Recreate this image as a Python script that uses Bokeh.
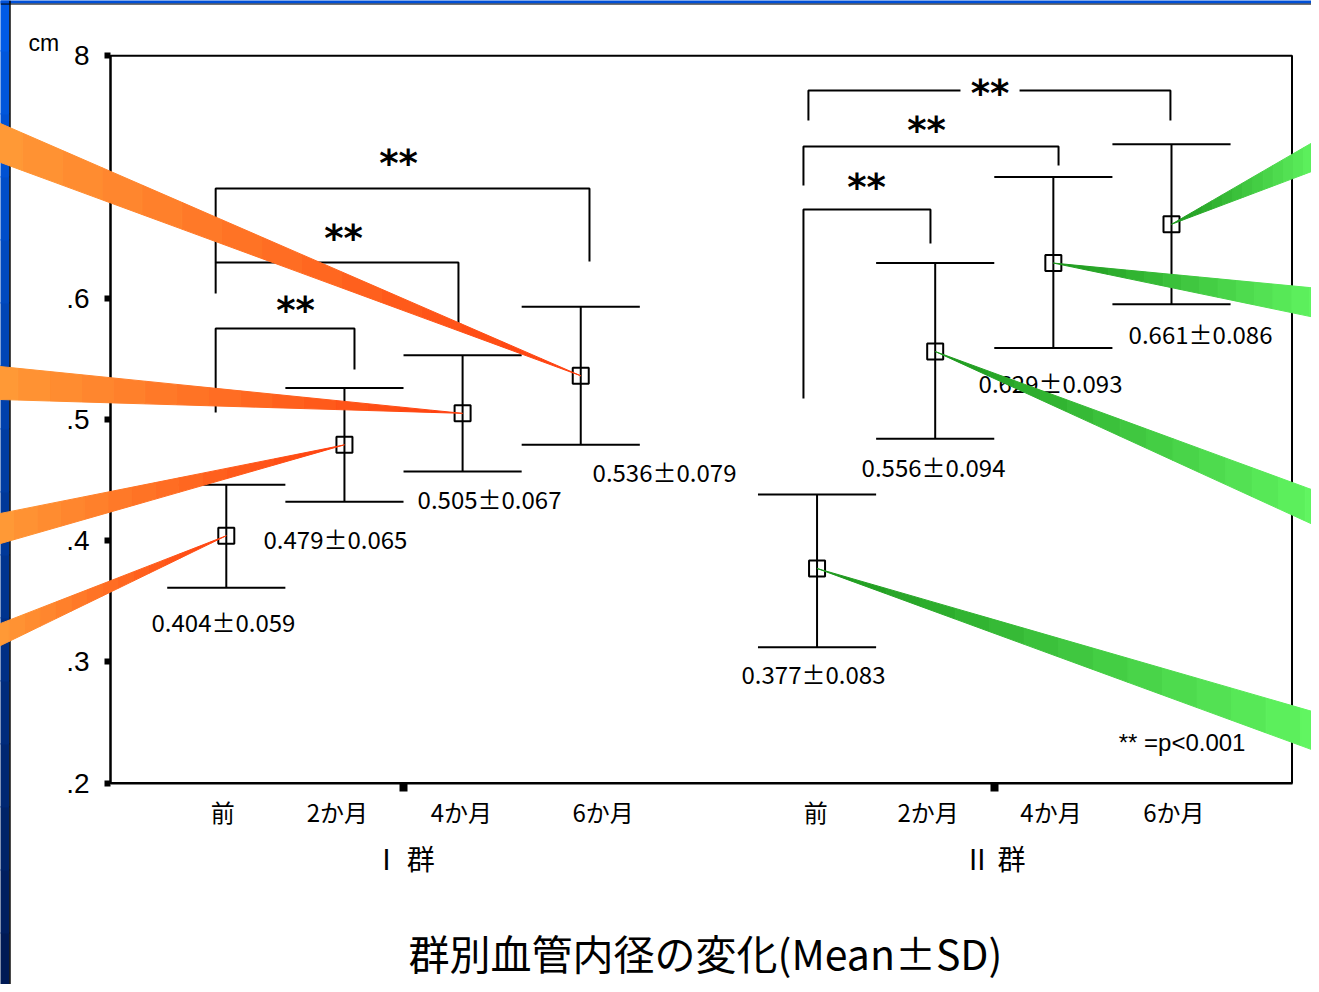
from bokeh.plotting import figure
from bokeh.models import (Range1d, FixedTicker, LinearAxis, Label, BoxAnnotation, Span,
                          ColumnDataSource)
from bokeh.core.properties import value
from bokeh.embed import file_html
from bokeh.resources import INLINE

# ---------------- data ----------------
periods = ["前", "2か月", "4か月", "6か月"]
group_names = ["Ⅰ 群", "Ⅱ 群"]
group_centers = [1.5, 6.5]
x_I = [0, 1, 2, 3]
x_II = [5, 6, 7, 8]
mean_I = [0.404, 0.479, 0.505, 0.536]
mean_II = [0.377, 0.556, 0.629, 0.661]
sd_I = [0.059, 0.065, 0.067, 0.079]
sd_II = [0.083, 0.094, 0.093, 0.086]
# error bar ends as drawn in the chart
upper_I = [0.446, 0.526, 0.553, 0.593]
lower_I = [0.361, 0.432, 0.457, 0.479]
upper_II = [0.438, 0.629, 0.700, 0.727]
lower_II = [0.312, 0.484, 0.559, 0.595]

y_ticks = [0.2, 0.3, 0.4, 0.5, 0.6, 0.7, 0.8]
y_tick_labels = [".2", ".3", ".4", ".5", ".6", ".7", "8"]
x_label_pos = [-0.03, 0.94, 1.99, 3.19, 4.99, 5.94, 6.98, 8.02]
x_labels = periods + periods

# significance brackets (** = p<0.001)
br_left = [-0.09, -0.09, -0.09, 4.885, 4.885, 4.927]
br_right = [1.085, 1.965, 3.074, 5.960, 7.044, 7.991]
br_top = [0.575, 0.6295, 0.6905, 0.6732, 0.7252, 0.7714]
br_left_bottom = [0.5057, 0.6039, 0.6295, 0.5172, 0.693, 0.7466]
br_right_bottom = [0.5412, 0.5791, 0.6303, 0.6451, 0.7095, 0.7466]
br_gap = [0, 0, 0, 0, 0, 0.25]
star_x = [0.586, 0.992, 1.458, 5.419, 5.927, 6.464]
star_y = [0.594, 0.6534, 0.7153, 0.6955, 0.7425, 0.7731]

# positions of the mean±SD texts
stat_x = [-0.024, 0.924, 2.228, 3.709, 4.970, 5.986, 6.976, 8.246]
stat_y = [0.3333, 0.4017, 0.4347, 0.457, 0.2903, 0.4611, 0.5304, 0.5709]

# decorative pointer stripes: far ends (at the picture edges)
orange_far_x = -1.911
orange_far_top = [0.3316, 0.4224, 0.5436, 0.7441]
orange_far_bot = [0.3134, 0.3976, 0.5164, 0.712]
green_far_x = 9.253
green_far_top = [0.2573, 0.4397, 0.608, 0.7318]
green_far_bot = [0.2252, 0.4108, 0.5833, 0.707]

FONT_JP = "Noto Sans CJK JP"
FONT_LAT = "Liberation Sans"

X0, X1 = -0.98, 9.02      # plotting box
Y0, Y1 = 0.2, 0.8

p = figure(width=1311, height=984, x_range=Range1d(-1.9111, 9.1850), y_range=Range1d(0.03375, 0.84563),
           output_backend="svg", toolbar_location=None, x_axis_type=None, y_axis_type=None,
           min_border=0)
p.xgrid.visible = False
p.ygrid.visible = False
p.outline_line_color = None
p.background_fill_color = "white"
p.border_fill_color = "white"

# y axis
ya = LinearAxis(fixed_location=X0, bounds=(Y0, Y1), ticker=FixedTicker(ticks=y_ticks),
                major_label_overrides=dict(zip(y_ticks, y_tick_labels)),
                major_tick_line_width=6, major_tick_out=6, major_tick_in=0,
                minor_tick_line_color=None, axis_line_width=2,
                major_label_text_font=FONT_LAT, major_label_text_font_size="28px",
                major_label_text_color="black", major_label_standoff=15)
p.add_layout(ya, "left")

# x axis: period labels + group tick marks
xa = LinearAxis(fixed_location=Y0, bounds=(X0, X1),
                ticker=FixedTicker(ticks=x_label_pos, minor_ticks=group_centers),
                major_label_overrides=dict(zip(x_label_pos, x_labels)),
                major_tick_out=0, major_tick_in=0, major_tick_line_color=None,
                minor_tick_line_color="black", minor_tick_line_width=8, minor_tick_out=8, minor_tick_in=0,
                axis_line_width=2, major_label_text_font=FONT_JP, major_label_text_font_size="24px",
                major_label_text_color="black", major_label_standoff=3)
p.add_layout(xa, "below")

ga = LinearAxis(fixed_location=Y0, bounds=(X0, X1), ticker=FixedTicker(ticks=group_centers),
                major_label_overrides=dict(zip(group_centers, group_names)),
                axis_line_color=None, major_tick_line_color=None, minor_tick_line_color=None,
                major_tick_out=0, major_tick_in=0,
                major_label_text_font=FONT_JP, major_label_text_font_size="28px",
                major_label_text_color="black", major_label_standoff=55)
p.add_layout(ga, "below")

# top and right sides of the plotting box
p.add_layout(BoxAnnotation(left=X0, right=X1, bottom=Y0, top=Y1, fill_color=None, fill_alpha=0,
                           line_color="black", line_alpha=1.0, line_width=2))

# error bars
xs = x_I + x_II
means = mean_I + mean_II
sds = sd_I + sd_II
ups = upper_I + upper_II
los = lower_I + lower_II
CAP = 0.5
p.segment(x0=xs, y0=los, x1=xs, y1=ups, line_color="black", line_width=2)
p.segment(x0=[x - CAP for x in xs], y0=ups, x1=[x + CAP for x in xs], y1=ups, line_color="black", line_width=2)
p.segment(x0=[x - CAP for x in xs], y0=los, x1=[x + CAP for x in xs], y1=los, line_color="black", line_width=2)
p.scatter(x=xs, y=means, marker="square", size=16, fill_color=None, line_color="black", line_width=2)

# brackets
bx, by = [], []
for xl, xr, yt, ylb, yrb, g, sx in zip(br_left, br_right, br_top, br_left_bottom, br_right_bottom, br_gap, star_x):
    if g > 0:
        bx.append([xl, xl, sx - g]); by.append([ylb, yt, yt])
        bx.append([sx + g, xr, xr]); by.append([yt, yt, yrb])
    else:
        bx.append([xl, xl, xr, xr]); by.append([ylb, yt, yt, yrb])
p.multi_line(xs=bx, ys=by, line_color="black", line_width=2)
p.text(x=star_x, y=star_y, text=["**"] * len(star_x), text_font=value("DejaVu Sans"),
       text_font_style="bold", text_font_size="37px", text_align="center",
       text_baseline="middle", y_offset=5, text_color="black")

# mean ± SD texts
stat_text = [f"{m:.3f}±{s:.3f}" for m, s in zip(means, sds)]
p.text(x=stat_x, y=stat_y, text=stat_text, text_font=value(FONT_JP), text_font_size="24px",
       text_align="center", text_baseline="middle", text_color="black")

p.add_layout(Label(x=8.626, y=0.2334, text="** =p<0.001", text_font=FONT_LAT, text_font_size="24px",
                   text_align="right", text_baseline="middle", text_color="black"))
p.add_layout(Label(x=-1.674, y=0.8102, text="cm", text_font=FONT_LAT, text_font_size="23px",
                   text_align="left", text_baseline="alphabetic", text_color="black"))
p.add_layout(Label(x=4.056, y=0.0605, text="群別血管内径の変化(Mean±SD)", text_font=FONT_JP,
                   text_font_size="41px", text_align="center", text_baseline="middle", text_color="black"))


# decorative page border (left / top)
def lerp(c0, c1, t):
    return "#%02x%02x%02x" % tuple(int(round(a + (b - a) * t)) for a, b in zip(c0, c1))


NB = 16
yb = [0.03375 - 0.01 + (0.84563 - 0.03375 + 0.02) * i / NB for i in range(NB + 1)]
for i in range(NB):
    p.add_layout(BoxAnnotation(left=-1.95, right=-1.835, bottom=yb[i], top=yb[i + 1] + 0.001,
                               fill_color=lerp((0, 24, 80), (0, 92, 235), (i + 0.5) / NB), fill_alpha=1,
                               line_color=None))
p.add_layout(BoxAnnotation(left=-1.95, right=9.3, bottom=0.8432, top=0.86, fill_color="#0050d8",
                           fill_alpha=1, line_color=None))
p.add_layout(Span(location=-1.831, dimension="height", line_color="black", line_width=1.5))
p.add_layout(Span(location=0.8427, dimension="width", line_color="black", line_width=1))


# decorative gradient pointer stripes (on top of everything)
def stripe_pieces(tx, ty, fx, fyt, fyb, c_tip, c_far, n=16, ext=1.1):
    ax, ay = tx + (fx - tx) * ext, ty + (fyt - ty) * ext
    bx_, by_ = tx + (fx - tx) * ext, ty + (fyb - ty) * ext
    out = []
    for i in range(n):
        t0, t1 = i / n, (i + 1) / n
        pxs = [tx + (ax - tx) * t0, tx + (ax - tx) * t1, tx + (bx_ - tx) * t1, tx + (bx_ - tx) * t0]
        pys = [ty + (ay - ty) * t0, ty + (ay - ty) * t1, ty + (by_ - ty) * t1, ty + (by_ - ty) * t0]
        out.append((pxs, pys, lerp(c_tip, c_far, (t0 + t1) / 2)))
    return out


pieces = []
for tx, ty, ft, fb in zip(x_I, mean_I, orange_far_top, orange_far_bot):
    pieces += stripe_pieces(tx, ty, orange_far_x, ft, fb, (255, 62, 14), (255, 162, 58))
for tx, ty, ft, fb in zip(x_II, mean_II, green_far_top, green_far_bot):
    pieces += stripe_pieces(tx, ty, green_far_x, ft, fb, (28, 150, 28), (104, 255, 104))
src = ColumnDataSource(dict(xs=[q[0] for q in pieces], ys=[q[1] for q in pieces], c=[q[2] for q in pieces]))
p.patches(xs="xs", ys="ys", source=src, fill_color="c", line_color="c", line_width=1, level="overlay")

open("out.html", "w").write(file_html(p, INLINE))
